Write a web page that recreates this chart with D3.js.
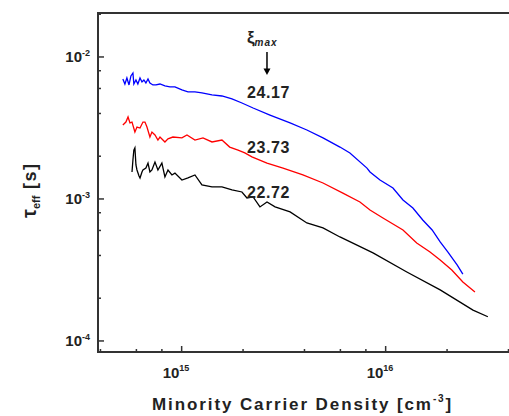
<!DOCTYPE html>
<html lang="en">
<head>
<meta charset="UTF-8">
<title>Effective lifetime vs minority carrier density</title>
<script src="https://cdn.jsdelivr.net/npm/d3@7"></script>
<style>
    body { margin: 0; padding: 0; background: #fff; font-family: "Liberation Sans", Arial, sans-serif; }
    svg text { font-weight: bold; fill: #222; }
</style>
</head>
<body>
<div id="chart"></div>
<script>
// density in units of 1e15 cm^-3, lifetime in ms
var blueN = [0.515, 0.527, 0.539, 0.552, 0.564, 0.577, 0.583, 0.597, 0.610, 0.625, 0.639, 0.653, 0.668, 0.684, 0.699, 0.723, 0.748, 0.783, 0.828, 0.876, 0.927, 1.003, 1.074, 1.162, 1.257, 1.408, 1.576, 1.765, 1.975, 2.24, 2.71, 3.40, 4.11, 4.93, 5.97, 6.68, 8.10, 8.38, 9.38, 10.86, 12.16, 13.6, 15.2, 16.9, 18.5, 20.2, 22.4, 23.9];
var blueTau = [7.00, 6.45, 7.11, 6.35, 7.35, 7.71, 6.45, 6.89, 6.45, 7.11, 6.67, 6.89, 6.56, 7.00, 6.56, 6.35, 6.35, 6.45, 6.25, 6.15, 6.15, 5.86, 5.67, 5.67, 5.58, 5.40, 5.31, 5.06, 4.74, 4.37, 3.90, 3.43, 3.06, 2.69, 2.32, 2.11, 1.65, 1.55, 1.36, 1.195, 0.984, 0.864, 0.711, 0.605, 0.498, 0.423, 0.343, 0.296];

var redN = [0.515, 0.533, 0.546, 0.558, 0.571, 0.590, 0.604, 0.625, 0.646, 0.661, 0.676, 0.699, 0.715, 0.740, 0.765, 0.783, 0.828, 0.857, 0.906, 1.003, 1.062, 1.162, 1.272, 1.408, 1.576, 1.72, 1.89, 2.04, 2.21, 2.62, 3.14, 3.93, 4.93, 6.17, 7.48, 8.38, 9.70, 12.16, 14.2, 16.5, 18.5, 21.1, 23.9, 27.4];
var redTau = [3.32, 3.48, 3.78, 3.43, 3.48, 2.96, 3.21, 3.16, 3.48, 3.48, 3.21, 2.73, 2.96, 2.82, 2.60, 2.73, 2.52, 2.65, 2.73, 2.69, 2.82, 2.60, 2.69, 2.52, 2.60, 2.32, 2.21, 2.11, 1.98, 1.79, 1.65, 1.476, 1.296, 1.10, 0.953, 0.837, 0.735, 0.605, 0.490, 0.423, 0.372, 0.316, 0.260, 0.221];

var blackN = [0.571, 0.577, 0.583, 0.590, 0.597, 0.604, 0.618, 0.625, 0.639, 0.646, 0.668, 0.684, 0.699, 0.715, 0.740, 0.765, 0.800, 0.828, 0.857, 0.896, 0.927, 1.003, 1.074, 1.162, 1.257, 1.408, 1.576, 1.765, 1.975, 2.09, 2.24, 2.42, 2.62, 2.87, 3.40, 4.11, 4.93, 5.97, 8.67, 12.7, 18.5, 26.8, 31.7];
var blackTau = [1.55, 1.88, 2.21, 2.29, 1.735, 1.60, 1.452, 1.406, 1.55, 1.60, 1.65, 1.79, 1.55, 1.60, 1.82, 1.60, 1.79, 1.43, 1.60, 1.476, 1.52, 1.36, 1.406, 1.476, 1.255, 1.215, 1.215, 1.157, 1.12, 1.016, 1.033, 0.879, 0.953, 0.879, 0.810, 0.678, 0.625, 0.540, 0.417, 0.306, 0.229, 0.165, 0.148];

var seriesColors = ["#0000ff", "#ff0000", "#000000"];

// annotation labels (xi_max values) placed in data coordinates
var labelText = ["24.17", "23.73", "22.72"];
var labelN = [2.09, 2.09, 2.09];
var labelTau = [5.14, 2.11, 1.016];

var xTickExp = [15, 16];
var yTickExp = [-2, -3, -4];

var svgWidth = 509, svgHeight = 416;
var margin = { top: 13, left: 98 };
var plotRight = 530, plotBottom = 352;

var svg = d3.select("#chart").append("svg")
    .attr("width", svgWidth)
    .attr("height", svgHeight);

var x = d3.scaleLog()
    .domain([3.89e14, 5.1e16])
    .range([margin.left, plotRight]);

var y = d3.scaleLog()
    .domain([8.36e-5, 2.04e-2])
    .range([plotBottom, margin.top]);

// minor ticks at 2,4,6,8 of each decade (Origin style)
function minorTicks(scale) {
    var d = scale.domain(), out = [];
    for (var e = Math.floor(Math.log10(d[0])); e <= Math.ceil(Math.log10(d[1])); e++) {
        [2, 4, 6, 8].forEach(function(m) {
            var v = m * Math.pow(10, e);
            if (v > d[0] && v < d[1]) out.push(v);
        });
    }
    return out;
}

var axisColor = "#333";

// frame: left, bottom, top (right side is off-canvas)
svg.append("line").attr("x1", margin.left).attr("x2", margin.left)
    .attr("y1", margin.top).attr("y2", plotBottom)
    .attr("stroke", axisColor).attr("stroke-width", 2);
svg.append("line").attr("x1", margin.left - 1).attr("x2", plotRight)
    .attr("y1", plotBottom).attr("y2", plotBottom)
    .attr("stroke", axisColor).attr("stroke-width", 2);
svg.append("line").attr("x1", margin.left - 1).attr("x2", plotRight)
    .attr("y1", margin.top).attr("y2", margin.top)
    .attr("stroke", axisColor).attr("stroke-width", 2);

// y ticks
svg.selectAll(".ymajor").data(yTickExp).enter().append("line")
    .attr("x1", margin.left).attr("x2", margin.left + 6)
    .attr("y1", d => y(Math.pow(10, d))).attr("y2", d => y(Math.pow(10, d)))
    .attr("stroke", axisColor).attr("stroke-width", 1.5);
svg.selectAll(".yminor").data(minorTicks(y)).enter().append("line")
    .attr("x1", margin.left).attr("x2", margin.left + 3)
    .attr("y1", d => y(d)).attr("y2", d => y(d))
    .attr("stroke", axisColor).attr("stroke-width", 1.5);

// x ticks
svg.selectAll(".xmajor").data(xTickExp).enter().append("line")
    .attr("y1", plotBottom).attr("y2", plotBottom - 6)
    .attr("x1", d => x(Math.pow(10, d))).attr("x2", d => x(Math.pow(10, d)))
    .attr("stroke", axisColor).attr("stroke-width", 1.5);
svg.selectAll(".xminor").data(minorTicks(x)).enter().append("line")
    .attr("y1", plotBottom).attr("y2", plotBottom - 3)
    .attr("x1", d => x(d)).attr("x2", d => x(d))
    .attr("stroke", axisColor).attr("stroke-width", 1.5);

// y tick labels
var yl = svg.selectAll(".ylab").data(yTickExp).enter().append("text")
    .attr("x", 90).attr("y", d => y(Math.pow(10, d)) + 5)
    .attr("text-anchor", "end")
    .style("font-size", "15px");
yl.append("tspan").text("10");
yl.append("tspan").attr("dy", -6).style("font-size", "9px").text(d => "-" + Math.abs(d));

// x tick labels
var xl = svg.selectAll(".xlab").data(xTickExp).enter().append("text")
    .attr("x", d => x(Math.pow(10, d)) - 19).attr("y", 378)
    .style("font-size", "15px");
xl.append("tspan").text("10");
xl.append("tspan").attr("dy", -7).style("font-size", "9px").text(d => d);

// axis titles
var xt = svg.append("text")
    .attr("x", 152).attr("y", 410)
    .style("font-size", "17px").style("letter-spacing", "1.9px");
xt.append("tspan").text("Minority Carrier Density [cm");
xt.append("tspan").attr("dy", -8).style("font-size", "10px").text("-3");
xt.append("tspan").attr("dy", 8).text("]");

var yt = svg.append("text")
    .attr("transform", "translate(36,218) rotate(-90)")
    .style("font-size", "18px");
yt.append("tspan").style("font-size", "20px").text("\u03c4");
yt.append("tspan").attr("dy", 4).style("font-size", "11px").text("eff");
yt.append("tspan").attr("dy", -4).style("letter-spacing", "1.5px").text(" [s]");

// curves
var line = d3.line()
    .x(d => x(d[0] * 1e15))
    .y(d => y(d[1] * 1e-3));

[[blueN, blueTau], [redN, redTau], [blackN, blackTau]].forEach(function(s, i) {
    var pts = s[0].map((n, j) => [n, s[1][j]]);
    svg.append("path")
        .datum(pts)
        .attr("d", line)
        .attr("fill", "none")
        .attr("stroke", seriesColors[i])
        .attr("stroke-width", 1.3);
});

// xi_max annotation with arrow
var xi = svg.append("text")
    .attr("x", x(2.09e15)).attr("y", y(12.6e-3))
    .style("font-size", "17px");
xi.append("tspan").text("\u03be");
xi.append("tspan").attr("dy", 3).style("font-size", "10px").style("font-style", "italic")
    .style("letter-spacing", "1px").text("max");

var ax = x(2.62e15);
svg.append("line")
    .attr("x1", ax).attr("x2", ax)
    .attr("y1", y(10.84e-3)).attr("y2", y(7.9e-3))
    .attr("stroke", "#000").attr("stroke-width", 1.5);
svg.append("path")
    .attr("d", d3.line()([[ax - 3.5, y(8.3e-3)], [ax + 3.5, y(8.3e-3)], [ax, y(7.47e-3)]]) + "Z")
    .attr("fill", "#000");

svg.selectAll(".vlab").data(labelText).enter().append("text")
    .attr("x", (d, i) => x(labelN[i] * 1e15))
    .attr("y", (d, i) => y(labelTau[i] * 1e-3))
    .style("font-size", "16px").style("letter-spacing", "0.6px")
    .text(d => d);
</script>
</body>
</html>
